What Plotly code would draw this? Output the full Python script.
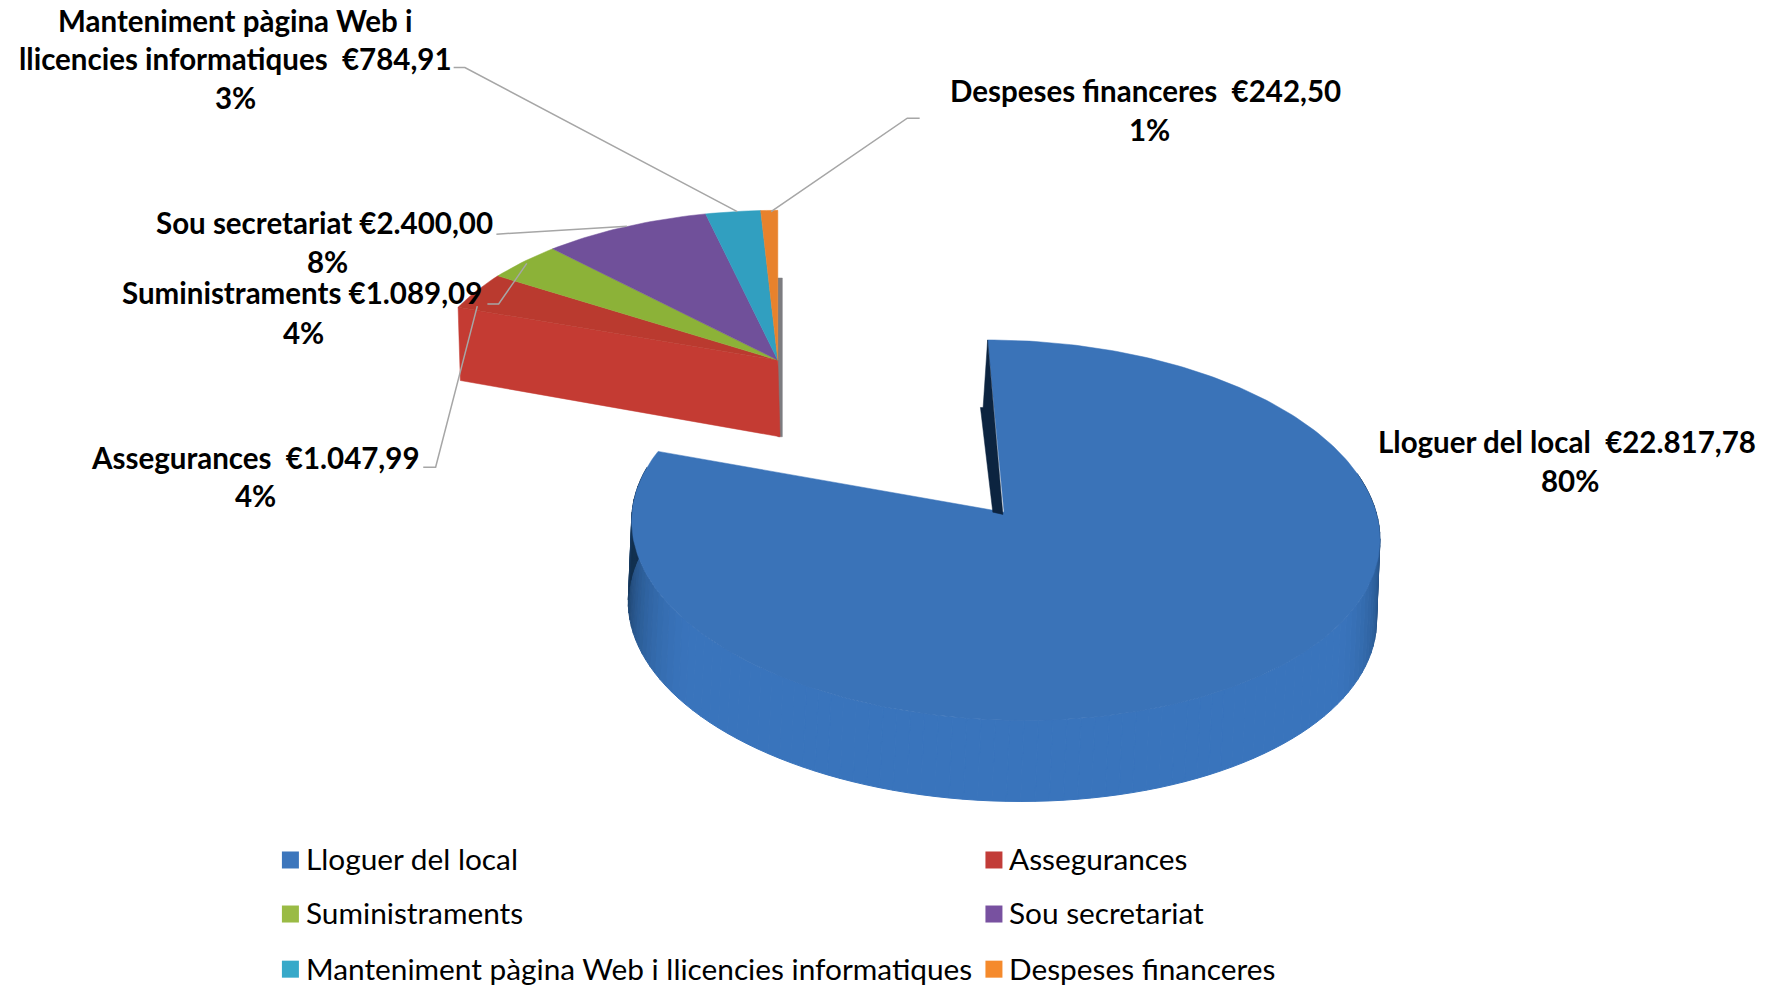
import math
import plotly.graph_objects as go

categories = ["Lloguer del local", "Assegurances", "Suministraments", "Sou secretariat",
              "Manteniment pàgina Web i llicencies informatiques", "Despeses financeres"]
values = [22817.78, 1047.99, 1089.09, 2400.00, 784.91, 242.50]
value_labels = ["€22.817,78", "€1.047,99", "€1.089,09", "€2.400,00", "€784,91", "€242,50"]
percent_labels = ["80%", "4%", "4%", "8%", "3%", "1%"]
top_colors = ["#3a73b8", "#ba3a2f", "#8cb238", "#70509a", "#319fc0", "#e8822c"]
legend_colors = ["#3c76bc", "#c23c38", "#9abb45", "#7851a0", "#37a9c9", "#f58a2c"]

K = 1765 / 1568  # reference was measured on the 1568-wide view
FONT = "Lato, Carlito, Calibri, sans-serif"

total = sum(values)
edges = [0.0]
for v in values:
    edges.append(edges[-1] + v / total * 360)


def project(theta, apex, sx=1.0, sy=1.0, skew=-16.0):
    """Perspective projection of a rim point (clockwise degrees from 12 o'clock)."""
    u = math.sin(math.radians(theta))
    v = math.cos(math.radians(theta))
    w = 1 + 0.0947 * v
    x = apex[0] + sx * (330.5 * u + skew * v) / w
    y = apex[1] - sy * 167.5 * v / w
    return x, y


def arc(a, b, apex, sx=1.0, sy=1.0, skew=-16.0, step=1.0):
    n = max(2, int(abs(b - a) / step) + 1)
    return [project(a + (b - a) * i / (n - 1), apex, sx, sy, skew) for i in range(n)]


def mix(c1, c2, t):
    a = [int(c1[i:i + 2], 16) for i in (1, 3, 5)]
    b = [int(c2[i:i + 2], 16) for i in (1, 3, 5)]
    return "#%02x%02x%02x" % tuple(round(a[i] + (b[i] - a[i]) * t) for i in range(3))


fig = go.Figure()


def poly(pts, color, name=None, line=0.5):
    fig.add_trace(go.Scatter(
        x=[p[0] * K for p in pts] + [pts[0][0] * K],
        y=[p[1] * K for p in pts] + [pts[0][1] * K],
        mode="lines", fill="toself", fillcolor=color,
        line=dict(color=color, width=line), hoverinfo="skip",
        name=name or "", showlegend=False))


# ---- main slice ----
A = (892, 455)
DEPTH = 72
start, end = edges[0], edges[1]

# side wall, shaded by angle
th = 78.0
while th < end - 6:
    nxt = min(th + 2, end)
    mid = (th + nxt) / 2
    t = min(1.0, abs(mid - 180) / 95)
    shade = mix("#3974bc", "#12304f", max(0.0, (t - 0.58) / 0.42) ** 1.5)
    p1 = project(th, A)
    p2 = project(nxt, A)
    poly([p1, p2, (p2[0] - 3, p2[1] + DEPTH), (p1[0] - 3, p1[1] + DEPTH)], shade, line=1)
    th = nxt

poly([A] + arc(start, end, A), top_colors[0], categories[0])

# thin dark sliver of the inner wall at the start of the slice
rim0 = project(start, A)
poly([rim0, (A[0] - 1, A[1] + 2), (A[0] - 10, A[1]), (A[0] - 21, A[1] - 93),
      (rim0[0] - 4, A[1] - 93)], "#0c2440")

# ---- exploded group ----
B = (691, 320)
SX, SY = 0.94, 0.87
gdepth = 65
group_start = edges[1]

# grey edge of the far wall
poly([(B[0], B[1] - 73), (B[0] + 4, B[1] - 73), (B[0] + 4, B[1] + 68), (B[0], B[1] + 68)], "#7d7d80")

# front wall of the red slice
rim = project(group_start, B, SX, SY, 0)
poly([B, rim, (rim[0] + 2, rim[1] + gdepth), (B[0] + 2, B[1] + 68)], "#c43b33")

for i in range(1, len(values)):
    poly([B] + arc(edges[i], edges[i + 1], B, SX, SY, 0), top_colors[i], categories[i])

# ---- leader lines ----
leaders = [
    [(403, 60), (413, 60), (655, 188)],
    [(817, 105), (806, 105), (685, 188)],
    [(441, 208), (557, 201)],
    [(433, 270), (443, 270), (468, 234)],
    [(376, 415), (387, 415), (424, 272)],
]
for pts in leaders:
    fig.add_trace(go.Scatter(x=[p[0] * K for p in pts], y=[p[1] * K for p in pts], mode="lines",
                             line=dict(color="#a6a6a6", width=1.5), hoverinfo="skip", showlegend=False))

# ---- data labels ----
label_order = [
    ("Manteniment pàgina Web i", 209, 18),
    (f"llicencies informatiques \u00a0{value_labels[4]}", 209, 52),
    (percent_labels[4], 209, 87),
    (f"{categories[5]} \u00a0{value_labels[5]}", 1018, 80),
    (percent_labels[5], 1021, 115),
    (f"{categories[3]} {value_labels[3]}", 288, 198),
    (percent_labels[3], 291, 232),
    (f"{categories[2]} {value_labels[2]}", 268, 260),
    (percent_labels[2], 270, 295),
    (f"{categories[1]} \u00a0{value_labels[1]}", 227, 406),
    (percent_labels[1], 227, 440),
    (f"{categories[0]} \u00a0{value_labels[0]}", 1392, 392),
    (percent_labels[0], 1395, 427),
]
annotations = [dict(x=x * K, y=y * K, text=t, showarrow=False, xanchor="center", yanchor="middle",
                    font=dict(family=FONT, size=29.5, color="#000000", weight="bold"))
               for t, x, y in label_order]

# ---- legend ----
legend_x = [250, 875]
legend_y = [764, 812, 861]
for i, cat in enumerate(categories):
    lx = legend_x[i % 2] + 8
    ly = legend_y[i // 2]
    fig.add_trace(go.Scatter(x=[lx * K], y=[ly * K], mode="markers", name=cat,
                             marker=dict(symbol="square", size=17, color=legend_colors[i]),
                             hoverinfo="name", showlegend=False))
    annotations.append(dict(x=(lx + 12) * K, y=(ly - 1) * K, text=cat, showarrow=False, xanchor="left",
                            yanchor="middle", font=dict(family=FONT, size=29.8, color="#000000")))

fig.update_layout(
    width=1765, height=986, margin=dict(l=0, r=0, t=0, b=0),
    paper_bgcolor="white", plot_bgcolor="white", showlegend=False,
    xaxis=dict(range=[0, 1765], visible=False, fixedrange=True),
    yaxis=dict(range=[986, 0], visible=False, fixedrange=True),
    annotations=annotations,
)
fig.write_html("out.html", config=dict(displayModeBar=False),
               post_script="document.body.style.margin='0';")
